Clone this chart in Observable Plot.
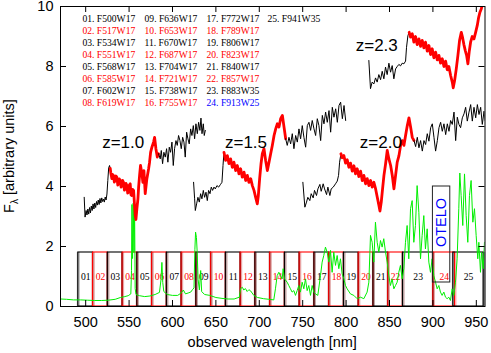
<!DOCTYPE html>
<html><head><meta charset="utf-8">
<script src="https://cdn.jsdelivr.net/npm/d3@7"></script>
<script src="https://cdn.jsdelivr.net/npm/@observablehq/plot@0.6"></script>
<style>body{margin:0;background:#fff} svg{display:block}</style>
</head><body><div id="chart"></div>
<script>
// ---------- data ----------
const filterNames = ["F500W17","F517W17","F534W17","F551W17","F568W17","F585W17","F602W17","F619W17","F636W17","F653W17","F670W17","F687W17","F704W17","F721W17","F738W17","F755W17","F772W17","F789W17","F806W17","F823W17","F840W17","F857W17","F883W35","F913W25","F941W35"];
const filterCenters = [500,517,534,551,568,585,602,619,636,653,670,687,704,721,738,755,772,789,806,823,840,857,883,913,941];
const filterWidths = [17,17,17,17,17,17,17,17,17,17,17,17,17,17,17,17,17,17,17,17,17,17,35,25,35];
const filterTrans = 1.8;
const xTicks = [500,550,600,650,700,750,800,850,900,950];
const yTicks = [0,2,4,6,8,10];
const zLabels = ["z=1.0","z=1.5","z=2.0","z=2.3"];
const oteloRange = [900, 920];
const oteloLevels = [0.8, 4.0];

// spectra [wavelength nm, F_lambda]
const z10a = [[498.3,3.64],[499.3,2.98],[500.5,3.2],[501.5,3.05],[502.5,3.25],[503.5,3.08],[504.5,3.3],[505.5,3.12],[506.5,3.35],[507.5,3.2],[508.5,3.42],[509.5,3.25],[510.5,3.45],[511.5,3.3],[512.5,3.5],[513.5,3.38],[514.5,3.55],[515.5,3.4],[516.5,3.6],[517.5,3.45],[518.5,3.62],[519.5,3.5],[520.5,3.58],[521.5,3.48],[522.5,3.65],[523.5,3.55],[524.5,3.75],[525.5,4.2],[526.5,4.62],[527.5,4.7],[528.3,4.6]];
const z10b = [[528.3,4.6],[529,4.45],[530.2,4.26],[531,4.4],[532.1,4.37],[533,4.15],[534,4.2],[535,4.35],[535.9,4.31],[537,4.05],[537.9,4.09],[538.8,4.25],[539.8,4.2],[540.8,3.98],[541.7,4.03],[542.6,4.2],[543.6,4.14],[544.6,3.88],[545.6,3.92],[546.5,4.1],[547.5,4.03],[548.4,3.78],[549.4,3.81],[550.3,4.05],[551.3,4.09],[552.2,3.72],[553.2,3.7],[554.2,3.9],[555.2,3.87],[556.3,3.37],[557.1,3.03],[557.9,2.9],[559,3.26],[560.2,3.59],[561,3.98],[562.1,4.37],[563.2,4.7],[564.8,4.42],[565.9,4.14],[567.1,4.53],[568.6,3.76],[570.5,4.26],[572.5,4.59],[573.6,4.81],[574.8,5.14],[576.3,5.31],[578.2,5.48],[579.4,5.64],[580.9,5.26],[582.5,4.98],[584,5.09]];
const z10c = [[584,5.09],[585.9,4.92],[587.1,5.2],[588.6,4.76],[590.1,5.14],[591.7,4.98],[593.2,5.26],[594.7,4.81],[596.3,5.31],[597.8,5.14],[599.4,5.48],[600.9,4.7],[602.4,5.26],[604,5.53],[605.5,5.37],[607,5.7],[608.6,5.53],[610.1,5.26],[611.7,5.64],[613.2,5.48],[614.7,4.98],[616.3,5.81],[617.8,5.59],[619.3,5.42],[620.9,5.92],[622.4,5.7],[624,6.03],[625.5,5.59],[627,6.09],[628.6,5.76],[630.1,6.14],[631.6,5.87],[632.8,6.28],[634,5.76],[635.5,6.09],[636.6,5.7],[637.8,5.87]];
const z15a = [[624.3,4.14],[625.5,3.59],[626.3,3.2],[627.8,3.42],[629.3,3.64],[630.9,3.48],[632.4,3.76],[633.9,3.59],[635.5,3.87],[637,3.64],[638.6,3.81],[640.1,3.53],[641.6,3.87],[643.2,3.76],[644.7,3.98],[646.2,3.87],[647.8,3.98],[649.3,3.92],[651.2,4.03],[653.2,3.98],[655.1,4.06],[657,4.14],[658.2,4.7],[659.3,5.14]];
const z15b = [[659.3,5.14],[661.2,4.87],[663.2,5.03],[665.1,4.76],[667,4.92],[668.9,4.64],[670.8,4.81],[672.8,4.53],[674.7,4.7],[676.6,4.42],[678.5,4.59],[680.4,4.31],[682.4,4.48],[684.3,4.2],[686.2,4.37],[688.1,4.14],[690.1,4.26],[692,4.03],[693.9,3.87],[695.8,3.64],[697.7,3.42],[698.9,3.7],[700.4,4.26],[702,4.76],[703.5,5.09],[705.4,5.26],[707.3,4.87],[709.3,4.53],[711.2,4.81],[713.1,5.09],[715,5.37],[717,5.7],[718.9,5.92],[720.8,6.09],[722.7,5.98],[724.6,6.26],[726.6,6.37],[728.5,5.98],[730.4,5.59]];
const z15c = [[730.4,5.59],[732.2,5.37],[734.2,5.64],[736.1,5.42],[738,5.76],[739.9,5.26],[741.9,5.7],[743.8,5.48],[745.7,5.92],[747.6,5.59],[749.5,6.03],[751.4,5.64],[753.4,5.31],[755.3,6.03],[757.2,6.14],[759.1,5.87],[761,6.2],[763,5.92],[764.9,5.7],[766.8,6.26],[768.7,6.03],[770.7,5.53],[772.6,6.37],[774.5,6.09],[776.4,6.48],[778.3,6.14],[780.3,6.53],[782.2,5.81],[784.1,6.64],[786,6.31],[788,6.59],[789.9,6.14],[791.8,6.7],[793.7,6.81],[795.7,6.26],[797.6,6.7],[799.5,6.2]];
const z20a = [[750.2,4.14],[752.5,3.31],[754.4,3.48],[755.9,3.64],[758.2,3.53],[759.8,3.76],[762.1,3.62],[763.6,3.87],[765.9,3.7],[767.5,3.92],[769.8,4.07],[771.3,3.84],[773.6,4.09],[775.2,3.92],[777.5,3.73],[779,3.98],[781.3,3.7],[782.8,3.92],[785.2,3.98],[787.8,4.09],[789.8,4.18],[791.3,4.37],[792.5,4.81],[794,5.09]];
const z20b = [[794,5.09],[795.5,4.96],[797.4,5.03],[799.4,4.78],[801.3,4.89],[803.2,4.64],[805.1,4.78],[807.1,4.51],[809,4.69],[810.9,4.42],[812.8,4.59],[814.7,4.33],[816.7,4.51],[818.6,4.2],[820.5,4.37],[822.4,4.09],[824.3,4.26],[826.3,4.03],[828.2,4.2],[830.1,3.98],[832,4.14],[834,3.92],[835.9,3.64],[837.8,3.37],[839,3.18],[840.5,3.48],[842,3.92],[843.6,4.37],[845.5,4.76],[847.4,5.2],[849.3,4.92],[851.3,4.7],[853.2,4.37],[855.1,3.92],[857,4.37],[858.9,4.81],[860.9,5.03],[862.8,5.37],[864.7,5.53],[866.6,5.37],[868.5,5.7],[870.5,6.03],[872.4,6.29],[874.3,5.98],[876.2,5.64],[878.2,5.53]];
const z20c = [[878.2,5.53],[880.1,5.33],[882,5.64],[883.9,5.29],[885.8,5.53],[887.8,5.18],[889.7,5.53],[891.6,5.4],[893.5,5.76],[895.4,5.51],[897.4,5.96],[899.3,6.09],[901.2,5.64],[903.1,5.18],[905.1,5.53],[907,5.96],[908.9,6.14],[910.8,5.84],[912.7,6.09],[914.7,5.73],[916.6,6.09],[918.5,5.84],[920.4,6.2],[922.3,6.07],[924.3,6.48],[926.2,5.53],[928.1,6.31],[930,6.07],[931.9,5.96],[933.9,6.29],[935.8,6.42],[937.7,6.64],[939.6,6.18],[941.6,6.48],[943.5,6.73],[945.4,6.18],[947.3,6.64],[949.3,6.29],[951.2,6.73],[953.1,6.4],[955,6.64],[956.9,6.07],[958.9,6.51],[960,6.2]];
const z23a = [[826.2,8.2],[828.1,7.26],[830,7.48],[832,7.42],[833.9,7.62],[835.8,7.48],[837.7,7.73],[839.7,7.56],[841.6,7.84],[843.5,7.59],[845.4,7.98],[847.3,7.73],[849.3,8.11],[851.2,7.81],[853.1,8.03],[855,7.59],[857,7.92],[858.9,8.0],[860.8,8.07],[862.7,8.02],[864.6,8.11],[866.6,8.09],[868.5,8.18],[869.6,8.64],[871.2,9.03],[872.7,9.14]];
const z23b = [[872.7,9.14],[874.2,8.98],[876.2,9.09],[878.1,8.81],[880,9.0],[881.9,8.73],[883.9,8.92],[885.8,8.67],[887.7,8.87],[889.6,8.62],[891.5,8.81],[893.5,8.51],[895.4,8.7],[897.3,8.4],[899.2,8.59],[901.1,8.29],[903.1,8.48],[905,8.22],[906.9,8.37],[908.8,8.11],[910.8,8.26],[912.7,8.0],[914.6,8.18],[916.5,7.89],[918.4,8.0],[920.4,7.7],[922.3,7.48],[923.4,7.29],[925,7.53],[926.9,7.92],[928.8,8.37],[930.7,8.87],[932.7,9.14],[934.2,8.96],[935.7,8.73],[937.3,8.53],[938.8,8.37],[940.3,8.09],[941.9,8.51],[943.4,8.81],[945.3,9.0],[947.3,8.92],[949.2,9.14],[951.1,9.37],[952.7,9.64],[954.2,9.81],[955.7,9.92],[957.3,10.09],[958.8,10.2]];

// sky spectrum (green)
const sky = [[471,0.25],[478,0.24],[486,0.22],[494,0.22],[502,0.21],[510,0.2],[518,0.2],[526,0.21],[534,0.24],[540,0.3],[545,0.33],[549,0.36],[552,0.42],[552.8,1.2],[553.3,3.4],[554,1.6],[554.8,3.45],[555.6,1.8],[556.3,3.4],[557,0.6],[558,0.4],[562,0.36],[568,0.33],[574,0.35],[580,0.4],[585,0.47],[586.8,0.9],[587.8,1.47],[588.8,0.8],[590,0.5],[594,0.4],[600,0.37],[606,0.37],[610,0.45],[612.5,0.55],[615,0.42],[618,0.45],[621,0.48],[623,0.56],[624.8,0.62],[625.8,1.9],[626.6,2.48],[627.6,2.3],[628.4,1.85],[629.5,0.9],[631,0.55],[632.5,1.2],[633.6,0.5],[637,0.4],[643,0.37],[650,0.3],[657,0.27],[664,0.25],[671,0.25],[677,0.31],[678.5,0.6],[680.5,0.64],[682.2,0.55],[684,0.6],[686,0.5],[688,0.56],[690,0.52],[693.7,0.37],[698,0.3],[705,0.26],[711,0.24],[716.7,0.22],[718.6,0.59],[720.6,1.03],[722.5,1.14],[724.4,1.03],[726.3,0.92],[727.5,1.26],[729,0.92],[732.1,0.81],[734,0.7],[735.9,0.59],[737.8,0.48],[739.8,0.53],[741.7,0.37],[743.6,0.53],[745.5,0.7],[747.4,0.48],[749.4,0.81],[751.3,0.59],[753.2,0.92],[755.1,0.53],[757,0.7],[759,0.37],[760.9,0.7],[762.8,0.48],[764.7,0.42],[767.4,0.37],[770.5,1.03],[772.4,1.48],[774.3,1.7],[776.2,1.98],[778.2,1.81],[780.1,1.48],[782,1.87],[783.9,1.14],[785.8,1.81],[787.8,1.37],[789.7,1.7],[791.6,1.26],[793.5,1.59],[795.4,1.09],[797.4,0.92],[799.3,0.7],[801.2,0.59],[805,0.42],[808.9,0.37],[812.7,0.26],[816.6,0.31],[820.4,0.26],[824.2,0.48],[826.2,0.81],[828.1,2.37],[830,2.14],[831.9,1.48],[833.8,2.81],[835.8,2.14],[837.7,1.81],[839.6,2.2],[841.5,1.98],[843.4,2.26],[845.4,1.81],[847.3,1.48],[849.2,1.03],[851.1,0.7],[853,0.92],[855,0.59],[856.9,0.7],[858.8,0.81],[860.7,1.14],[862.6,1.37],[864.6,0.92],[866.5,1.26],[868.4,2.14],[870.3,2.7],[872.2,1.59],[874.2,3.26],[876.1,3.53],[878,2.14],[879.9,2.7],[881.8,4.03],[883.8,3.14],[885.7,1.59],[887.6,2.37],[889.5,3.03],[891.4,1.92],[893.4,2.59],[895.3,1.48],[897.2,1.14],[899.1,1.59],[901,1.03],[903,0.81],[904.9,0.59],[906.8,0.7],[908.7,0.48],[910.6,0.37],[912.6,0.48],[914.5,0.31],[916.4,0.26],[918.3,0.31],[920.2,0.2],[922.2,0.59],[924.1,0.37],[926,0.81],[927.9,1.59],[929.8,3.26],[931,4.45],[932.5,3.7],[934.4,2.7],[936.4,4.42],[938.3,3.03],[940.2,2.14],[942.1,3.7],[944,4.2],[946,2.81],[947.9,3.26],[949.8,2.37],[951.7,1.59],[952.9,2.14],[954.8,1.14],[956,1.81],[957.9,1.26],[959.4,2.14]];

// ---------- layout ----------
const RED = "#ff0000", BLUE = "#0000ff", BLACK = "#000000";
const SANS = "Liberation Sans, Arial, Helvetica, sans-serif";
const SERIF = "Liberation Serif, Times New Roman, serif";
const legendColX = [496.3, 567.8, 639.2, 709.4];
const zLabelPos = [[543.2,5.45],[684.7,5.45],[840.0,5.45],[835.3,8.7]];
const X0 = 471, X1 = 960, Y0 = 0, Y1 = 10;

const filters = filterNames.map((name, i) => {
  const n = i + 1;
  const even = n % 2 === 0;
  return {
    id: String(n).padStart(2, "0"),
    name, c: filterCenters[i], w: filterWidths[i],
    box: even ? RED : BLACK,
    legend: n === 24 ? BLUE : (even ? RED : BLACK),
    col: Math.floor(i / 8), row: i % 8
  };
});
const edges = filters.flatMap(f => [
  {x: f.c - f.w / 2, color: f.box === RED ? "#ff9a9a" : "#9a9a9a"},
  {x: f.c + f.w / 2, color: f.box === RED ? "#ff9a9a" : "#9a9a9a"}
]);

const W = 491, H = 353, ML = 60, MR = 6.5, MT = 6, MB = 47;
const frameW = W - ML - MR, frameH = H - MT - MB, TL = 6;
const tickDX = TL * (X1 - X0) / frameW;   // tick length in x units
const tickDY = TL * (Y1 - Y0) / frameH;   // tick length in y units
const seg = (data, color, sw) => Plot.line(data, {x: d => d[0], y: d => d[1], stroke: color, strokeWidth: sw, clip: true, strokeLinejoin: "round"});

const plot = Plot.plot({
  width: W, height: H,
  marginLeft: ML, marginRight: MR, marginTop: MT, marginBottom: MB,
  style: {fontFamily: SANS, fontSize: "14.5px", background: "white"},
  x: {domain: [X0, X1]},
  y: {domain: [Y0, Y1]},
  color: {type: "identity"},
  marks: [
    // filter edges (soft) and boxes
    Plot.ruleX(edges, {x: "x", y1: 0, y2: filterTrans, stroke: "color", strokeWidth: 3, strokeOpacity: 0.7}),
    Plot.rect(filters, {x1: d => d.c - d.w / 2, x2: d => d.c + d.w / 2, y1: 0, y2: filterTrans, fill: "none", stroke: "box", strokeWidth: 1.1}),
    Plot.text(filters, {x: "c", y: 1.0, text: "id", fill: "box", fontFamily: SERIF, fontSize: 9.6}),
    // sky spectrum
    Plot.line(sky, {x: d => d[0], y: d => d[1], stroke: "#00ee00", strokeWidth: 1, clip: true}),
    // OTELO window
    Plot.rect([oteloRange], {x1: d => d[0], x2: d => d[1], y1: oteloLevels[0], y2: oteloLevels[1], fill: "none", stroke: "#222", strokeWidth: 1}),
    Plot.text(["OTELO"], {x: (oteloRange[0] + oteloRange[1]) / 2, y: 2.8, text: d => d, rotate: -90, fill: BLUE, fontSize: 14.5, fontFamily: SANS}),
    // galaxy spectra
    seg(z10a, BLACK, 1), seg(z10b, RED, 2.8), seg(z10c, BLACK, 1),
    seg(z15a, BLACK, 1), seg(z15b, RED, 2.8), seg(z15c, BLACK, 1),
    seg(z20a, BLACK, 1), seg(z20b, RED, 2.8), seg(z20c, BLACK, 1),
    seg(z23a, BLACK, 1), seg(z23b, RED, 2.8),
    // redshift labels
    Plot.text(zLabels, {x: (d, i) => zLabelPos[i][0], y: (d, i) => zLabelPos[i][1], text: d => d, fontSize: 17, fontFamily: SANS, fill: BLACK}),
    // legend of filters
    Plot.text(filters, {x: d => legendColX[d.col], y: d => 9.6 - 0.4 * d.row, text: d => `${d.id}. ${d.name}`, fill: "legend", textAnchor: "start", fontFamily: SERIF, fontSize: 9.6}),
    // frame and inward ticks on all sides
    Plot.frame({stroke: BLACK, strokeWidth: 1}),
    Plot.ruleX(xTicks, {x: d => d, y1: Y0, y2: Y0 + tickDY, stroke: BLACK}),
    Plot.ruleX(xTicks, {x: d => d, y1: Y1 - tickDY, y2: Y1, stroke: BLACK}),
    Plot.ruleY(yTicks, {y: d => d, x1: X0, x2: X0 + tickDX, stroke: BLACK}),
    Plot.ruleY(yTicks, {y: d => d, x1: X1 - tickDX, x2: X1, stroke: BLACK}),
    Plot.axisX({ticks: xTicks, tickSize: 0, tickPadding: 10, tickFormat: d => String(d), label: null, fontSize: 14.5}),
    Plot.axisY({ticks: yTicks, tickSize: 0, tickPadding: 7, tickFormat: d => String(d), label: null, fontSize: 14.5})
  ]
});

const svg = d3.select(plot);
svg.append("text")
  .attr("x", ML + frameW / 2).attr("y", 347)
  .attr("text-anchor", "middle").attr("font-family", SANS).attr("font-size", "14.5px").attr("fill", "black")
  .text("observed wavelength [nm]");
const yl = svg.append("text")
  .attr("transform", `translate(14,${MT + frameH / 2}) rotate(-90)`)
  .attr("text-anchor", "middle").attr("font-family", SANS).attr("font-size", "14.5px").attr("fill", "black");
yl.append("tspan").text("F");
yl.append("tspan").attr("font-size", "10px").attr("dy", "4").text("λ");
yl.append("tspan").attr("dy", "-4").text(" [arbitrary units]");

document.getElementById("chart").appendChild(plot);
</script>
</body></html>
